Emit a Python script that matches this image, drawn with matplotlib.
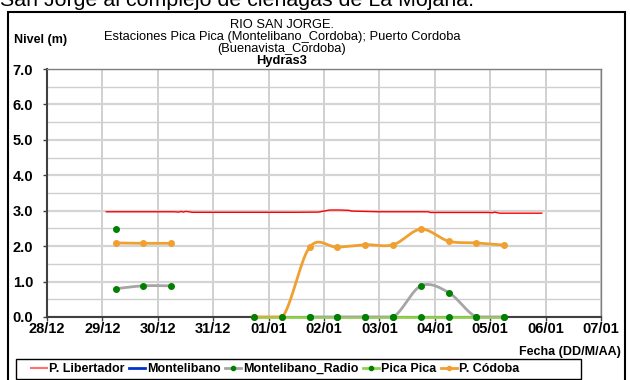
import numpy as np
import matplotlib
matplotlib.use("Agg")
import matplotlib.pyplot as plt
import matplotlib.patches as patches
from matplotlib.lines import Line2D

plt.rcParams['font.family'] = ['Liberation Sans', 'DejaVu Sans']

# days counted from 28/12
tick_labels = ["28/12", "29/12", "30/12", "31/12", "01/01", "02/01",
               "03/01", "04/01", "05/01", "06/01", "07/01"]

# P. Libertador (dense record)
lib_t = [1.07, 1.5, 2.0, 2.3, 2.38, 2.42, 2.46, 2.5, 2.56, 2.62, 3.0, 3.5, 4.0,
         4.5, 4.9, 5.0, 5.1, 5.3, 5.45, 5.5, 6.0, 6.5, 6.88, 6.92, 7.5, 8.0,
         8.04, 8.08, 8.17, 8.5, 8.93]
lib_v = [2.97, 2.97, 2.97, 2.97, 2.96, 2.98, 2.96, 2.98, 2.97, 2.955, 2.955, 2.955, 2.955,
         2.955, 2.96, 2.99, 3.02, 3.02, 3.01, 2.99, 2.97, 2.97, 2.97, 2.95, 2.95, 2.95,
         2.94, 2.96, 2.93, 2.93, 2.93]

# 06:00 / 18:00 readings
radio_t = [1.25, 1.74, 2.24, np.nan, 4.74, 5.24, 5.74, 6.25, 6.75, 7.25, 7.75, 8.25]
radio_v = [0.80, 0.88, 0.88, np.nan, 0.0, 0.0, 0.0, 0.0, 0.88, 0.69, 0.0, 0.0]

pica_t = [1.25, np.nan, 3.74, 4.25, 4.74, 5.24, 5.74, 6.25, 6.75, 7.25, 7.75, 8.25]
pica_v = [2.49, np.nan, 0.0, 0.0, 0.0, 0.0, 0.0, 0.0, 0.0, 0.0, 0.0, 0.0]

cord_t = [1.25, 1.74, 2.24, np.nan, 3.74, 4.25, 4.74, 5.24, 5.74, 6.25, 6.75, 7.25, 7.75, 8.25]
cord_v = [2.09, 2.08, 2.08, np.nan, 0.0, 0.0, 1.97, 1.97, 2.04, 2.04, 2.48, 2.14, 2.09, 2.03]

RED = "#ff0000"
BLUE = "#0033cc"
GRAY = "#a6a6a6"
LGREEN = "#92d050"
DGREEN = "#008000"
ORANGE = "#f0a030"

W, H = 630, 380


def fx(px):
    return px / W


def fy(py):
    return 1 - py / H


def segments(t, v):
    # split a series at NaN gaps
    out, cur = [], []
    for a, b in zip(t, v):
        if np.isnan(a):
            if cur:
                out.append(np.array(cur))
            cur = []
        else:
            cur.append((a, b))
    if cur:
        out.append(np.array(cur))
    return out


def smooth(pts, n=20):
    # Catmull-Rom bezier through the points ("smoothed line")
    if len(pts) < 3:
        return pts[:, 0], pts[:, 1]
    p = np.vstack([pts[0], pts, pts[-1]])
    xs, ys = [], []
    s = np.linspace(0, 1, n)[:, None]
    for i in range(1, len(p) - 2):
        p0, p1, p2, p3 = p[i - 1], p[i], p[i + 1], p[i + 2]
        c1 = p1 + (p2 - p0) / 6.0
        c2 = p2 - (p3 - p1) / 6.0
        b = (1 - s) ** 3 * p1 + 3 * (1 - s) ** 2 * s * c1 \
            + 3 * (1 - s) * s ** 2 * c2 + s ** 3 * p2
        xs.extend(b[:, 0])
        ys.extend(b[:, 1])
    return np.array(xs), np.array(ys)


fig = plt.figure(figsize=(6.3, 3.8), dpi=100)
ax = fig.add_axes([fx(47), fy(317), 554 / W, 248 / H])

ax.set_xlim(0, 10)
ax.set_ylim(0, 7)
ax.set_xticks(range(11))
ax.set_xticklabels(tick_labels)
ax.set_yticks(np.arange(0, 7.5, 1))
ax.set_yticklabels([f"{v:.1f}" for v in range(8)])
ax.set_yticks(np.arange(0.5, 7, 1), minor=True)
ax.tick_params(axis="both", which="major", labelsize=10.5, length=3, width=1,
               color="#404040")
ax.tick_params(axis="x", which="major", pad=0.5)
ax.tick_params(axis="y", which="major", pad=7)
ax.tick_params(axis="y", which="minor", length=0)
for lab in ax.get_xticklabels() + ax.get_yticklabels():
    lab.set_fontweight("bold")

ax.grid(axis="y", which="major", color="#d4d4d4", lw=1.6)
ax.grid(axis="y", which="minor", color="#cfcfcf", lw=1.0)
ax.grid(axis="x", which="major", color="#c8c8c8", lw=1.2)
ax.set_axisbelow(True)
for side in ("top", "right"):
    ax.spines[side].set_color("#808080")
    ax.spines[side].set_linewidth(1.0)
for side in ("left", "bottom"):
    ax.spines[side].set_color("#404040")
    ax.spines[side].set_linewidth(1.5)

ax.plot(lib_t, lib_v, color=RED, lw=1.0, zorder=3)

for seg in segments(pica_t, pica_v):
    ax.plot(seg[:, 0], seg[:, 1], color=LGREEN, lw=2, zorder=3, clip_on=False)

for seg in segments(radio_t, radio_v):
    x, y = smooth(seg)
    ax.plot(x, np.clip(y, 0, None), color=GRAY, lw=2, zorder=4)

for seg in segments(cord_t, cord_v):
    x, y = smooth(seg)
    ax.plot(x, np.clip(y, 0, None), color=ORANGE, lw=2, zorder=5)
    ax.plot(seg[:, 0], seg[:, 1], "o", color=ORANGE, ms=4, zorder=6, clip_on=False)

for seg in segments(radio_t, radio_v) + segments(pica_t, pica_v):
    ax.plot(seg[:, 0], seg[:, 1], "o", color=DGREEN, ms=4, zorder=7, clip_on=False)

# titles and axis captions
title_lines = ["RIO SAN JORGE.",
               "Estaciones Pica Pica (Montelibano_Cordoba); Puerto Cordoba",
               "(Buenavista_Cordoba)"]
for i, line in enumerate(title_lines):
    fig.text(fx(282), fy(25 + 12 * i), line, ha="center", va="center", fontsize=9.3)
fig.text(fx(282), fy(61), "Hydras3", ha="center", va="center", fontsize=9.3,
         fontweight="bold")
fig.text(fx(14), fy(40), "Nivel (m)", ha="left", va="center", fontsize=9,
         fontweight="bold")
fig.text(fx(621), fy(352), "Fecha (DD/M/AA)", ha="right", va="center", fontsize=9,
         fontweight="bold")

# running text of the page above the chart
fig.text(0, fy(5.5), "San Jorge al complejo de ciénagas de La Mojana.", ha="left",
         va="baseline", fontsize=15.4)

# chart frame
fig.patches.append(patches.Rectangle((fx(8), -0.1), 617 / W, 1.1 - 12 / H,
                                     transform=fig.transFigure, fill=False,
                                     edgecolor="black", lw=1.5))
# legend box
fig.patches.append(patches.Rectangle((fx(16), fy(379)), 565 / W, 20 / H,
                                     transform=fig.transFigure, fill=False,
                                     edgecolor="black", lw=1.0))

handles = [
    Line2D([], [], color="#ff7070", lw=1.5),
    Line2D([], [], color=BLUE, lw=2),
    Line2D([], [], color=GRAY, lw=2, marker="o", ms=3, mfc=DGREEN, mec=DGREEN),
    Line2D([], [], color=LGREEN, lw=2, marker="o", ms=3, mfc=DGREEN, mec=DGREEN),
    Line2D([], [], color=ORANGE, lw=2, marker="o", ms=3),
]
names = ["P. Libertador", "Montelibano", "Montelibano_Radio", "Pica Pica", "P. Códoba"]
leg = fig.legend(handles, names, loc="center left", bbox_to_anchor=(fx(31), fy(369)),
                 ncol=5, fontsize=9, frameon=False, handlelength=1.3,
                 handletextpad=0.15, columnspacing=0.35, borderpad=0, borderaxespad=0)
for txt in leg.get_texts():
    txt.set_fontweight("bold")

fig.savefig("out.png", dpi=100)
